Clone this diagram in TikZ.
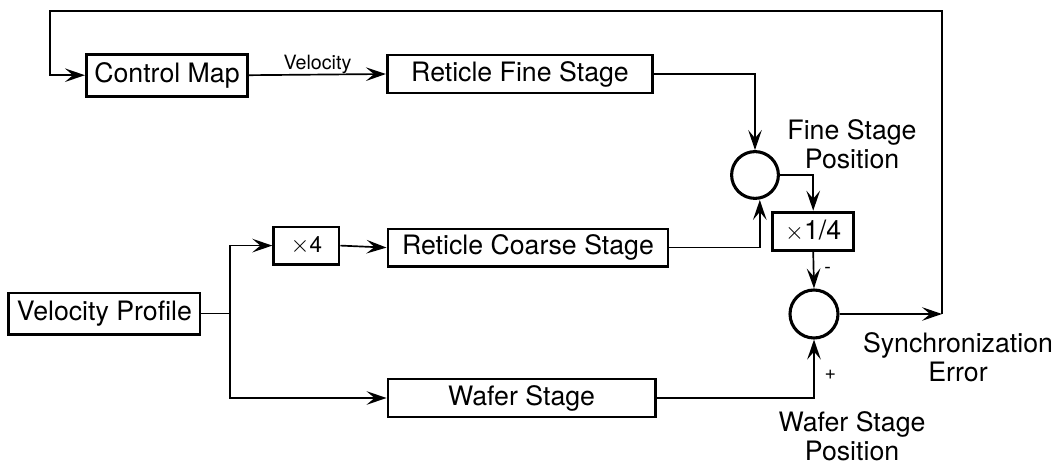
\documentclass[tikz,border=0pt]{standalone}
\usepackage{fontspec}
\setmainfont{TeX Gyre Heros}
\usepackage{tikz}
\usetikzlibrary{arrows.meta,positioning,calc}
\tikzset{
  base/.style={font=\fontsize{19}{22}\selectfont, align=center, inner sep=2pt, text=black},
  box/.style={base, rectangle, draw=black, fill=white, line width=2.1pt},
  sumj/.style={circle, draw=black, line width=2.2pt, minimum size=1.17cm, inner sep=0pt},
  arr/.style={-{Stealth[length=5mm,width=3.4mm,inset=2mm]}, line width=1.2pt, draw=black},
  wire/.style={line width=1.2pt, draw=black},
  lbl/.style={base, font=\fontsize{19}{21}\selectfont},
  sgn/.style={base, font=\fontsize{14}{16}\selectfont},
}
\begin{document}
\begin{tikzpicture}
  \useasboundingbox (0,0) rectangle (26.525,-11.675);
  \node[box,minimum width=4.03cm,minimum height=1.05cm] (cmap) at (4.175,-1.88) {Control Map};
  \node[box,minimum width=6.63cm,minimum height=0.95cm] (rfine) at (13.0,-1.85) {Reticle Fine Stage};
  \node[box,minimum width=4.78cm,minimum height=1.03cm] (vprof) at (2.61,-7.84) {Velocity Profile};
  \node[box,minimum width=1.63cm,minimum height=0.93cm,font=\fontsize{16}{18}\selectfont] (times4) at (7.66,-6.14) {$\times$4};
  \node[box,minimum width=7.0cm,minimum height=0.93cm] (rcoarse) at (13.2,-6.19) {Reticle Coarse Stage};
  \node[box,minimum width=6.68cm,minimum height=0.95cm] (wafer) at (13.04,-9.95) {Wafer Stage};
  \node[box,minimum width=2.03cm,minimum height=0.95cm] (quarter) at (20.33,-5.78) {$\times$1/4};
  \node[sumj] (sum1) at (18.875,-4.375) {};
  \node[sumj,minimum size=1.2cm] (sum2) at (20.35,-7.85) {};
  \coordinate (split) at (5.75,-7.84);
  \coordinate (err) at (23.55,-7.85);
  \coordinate (fbtop) at (1.25,-0.28);
  % signal paths
  \draw[arr] (cmap.east) -- (rfine.west) node[midway,above,sgn,yshift=-2pt]{Velocity};
  \draw[wire] (vprof.east) -- (split);
  \draw[arr] (split) |- (times4.west);
  \draw[arr] (split) |- (wafer.west);
  \draw[arr] (times4.east) -- (rcoarse.west);
  \draw[arr] (rfine.east) -| (sum1.north);
  \draw[arr] (rcoarse.east) -| ([xshift=0.12cm]sum1.south);
  \draw[arr] (sum1.east) -| (quarter.north);
  \draw[arr] (quarter.south) -- (sum2.north) node[pos=0.5,right,sgn,xshift=5pt]{-};
  \draw[arr] (wafer.east) -| (sum2.south) node[pos=0.7,right,sgn,xshift=5pt]{+};
  \draw[arr] (sum2.east) -- (err);
  \draw[arr] (err) |- (fbtop) |- (cmap.west);
  % labels
  \node[lbl] (finepos) at (21.3,-3.6) {Fine Stage\\Position};
  \node[lbl] (syncerr) at (23.95,-8.93) {Synchronization\\Error};
  \node[lbl] (waferpos) at (21.3,-10.9) {Wafer Stage\\Position};
\end{tikzpicture}
\end{document}
